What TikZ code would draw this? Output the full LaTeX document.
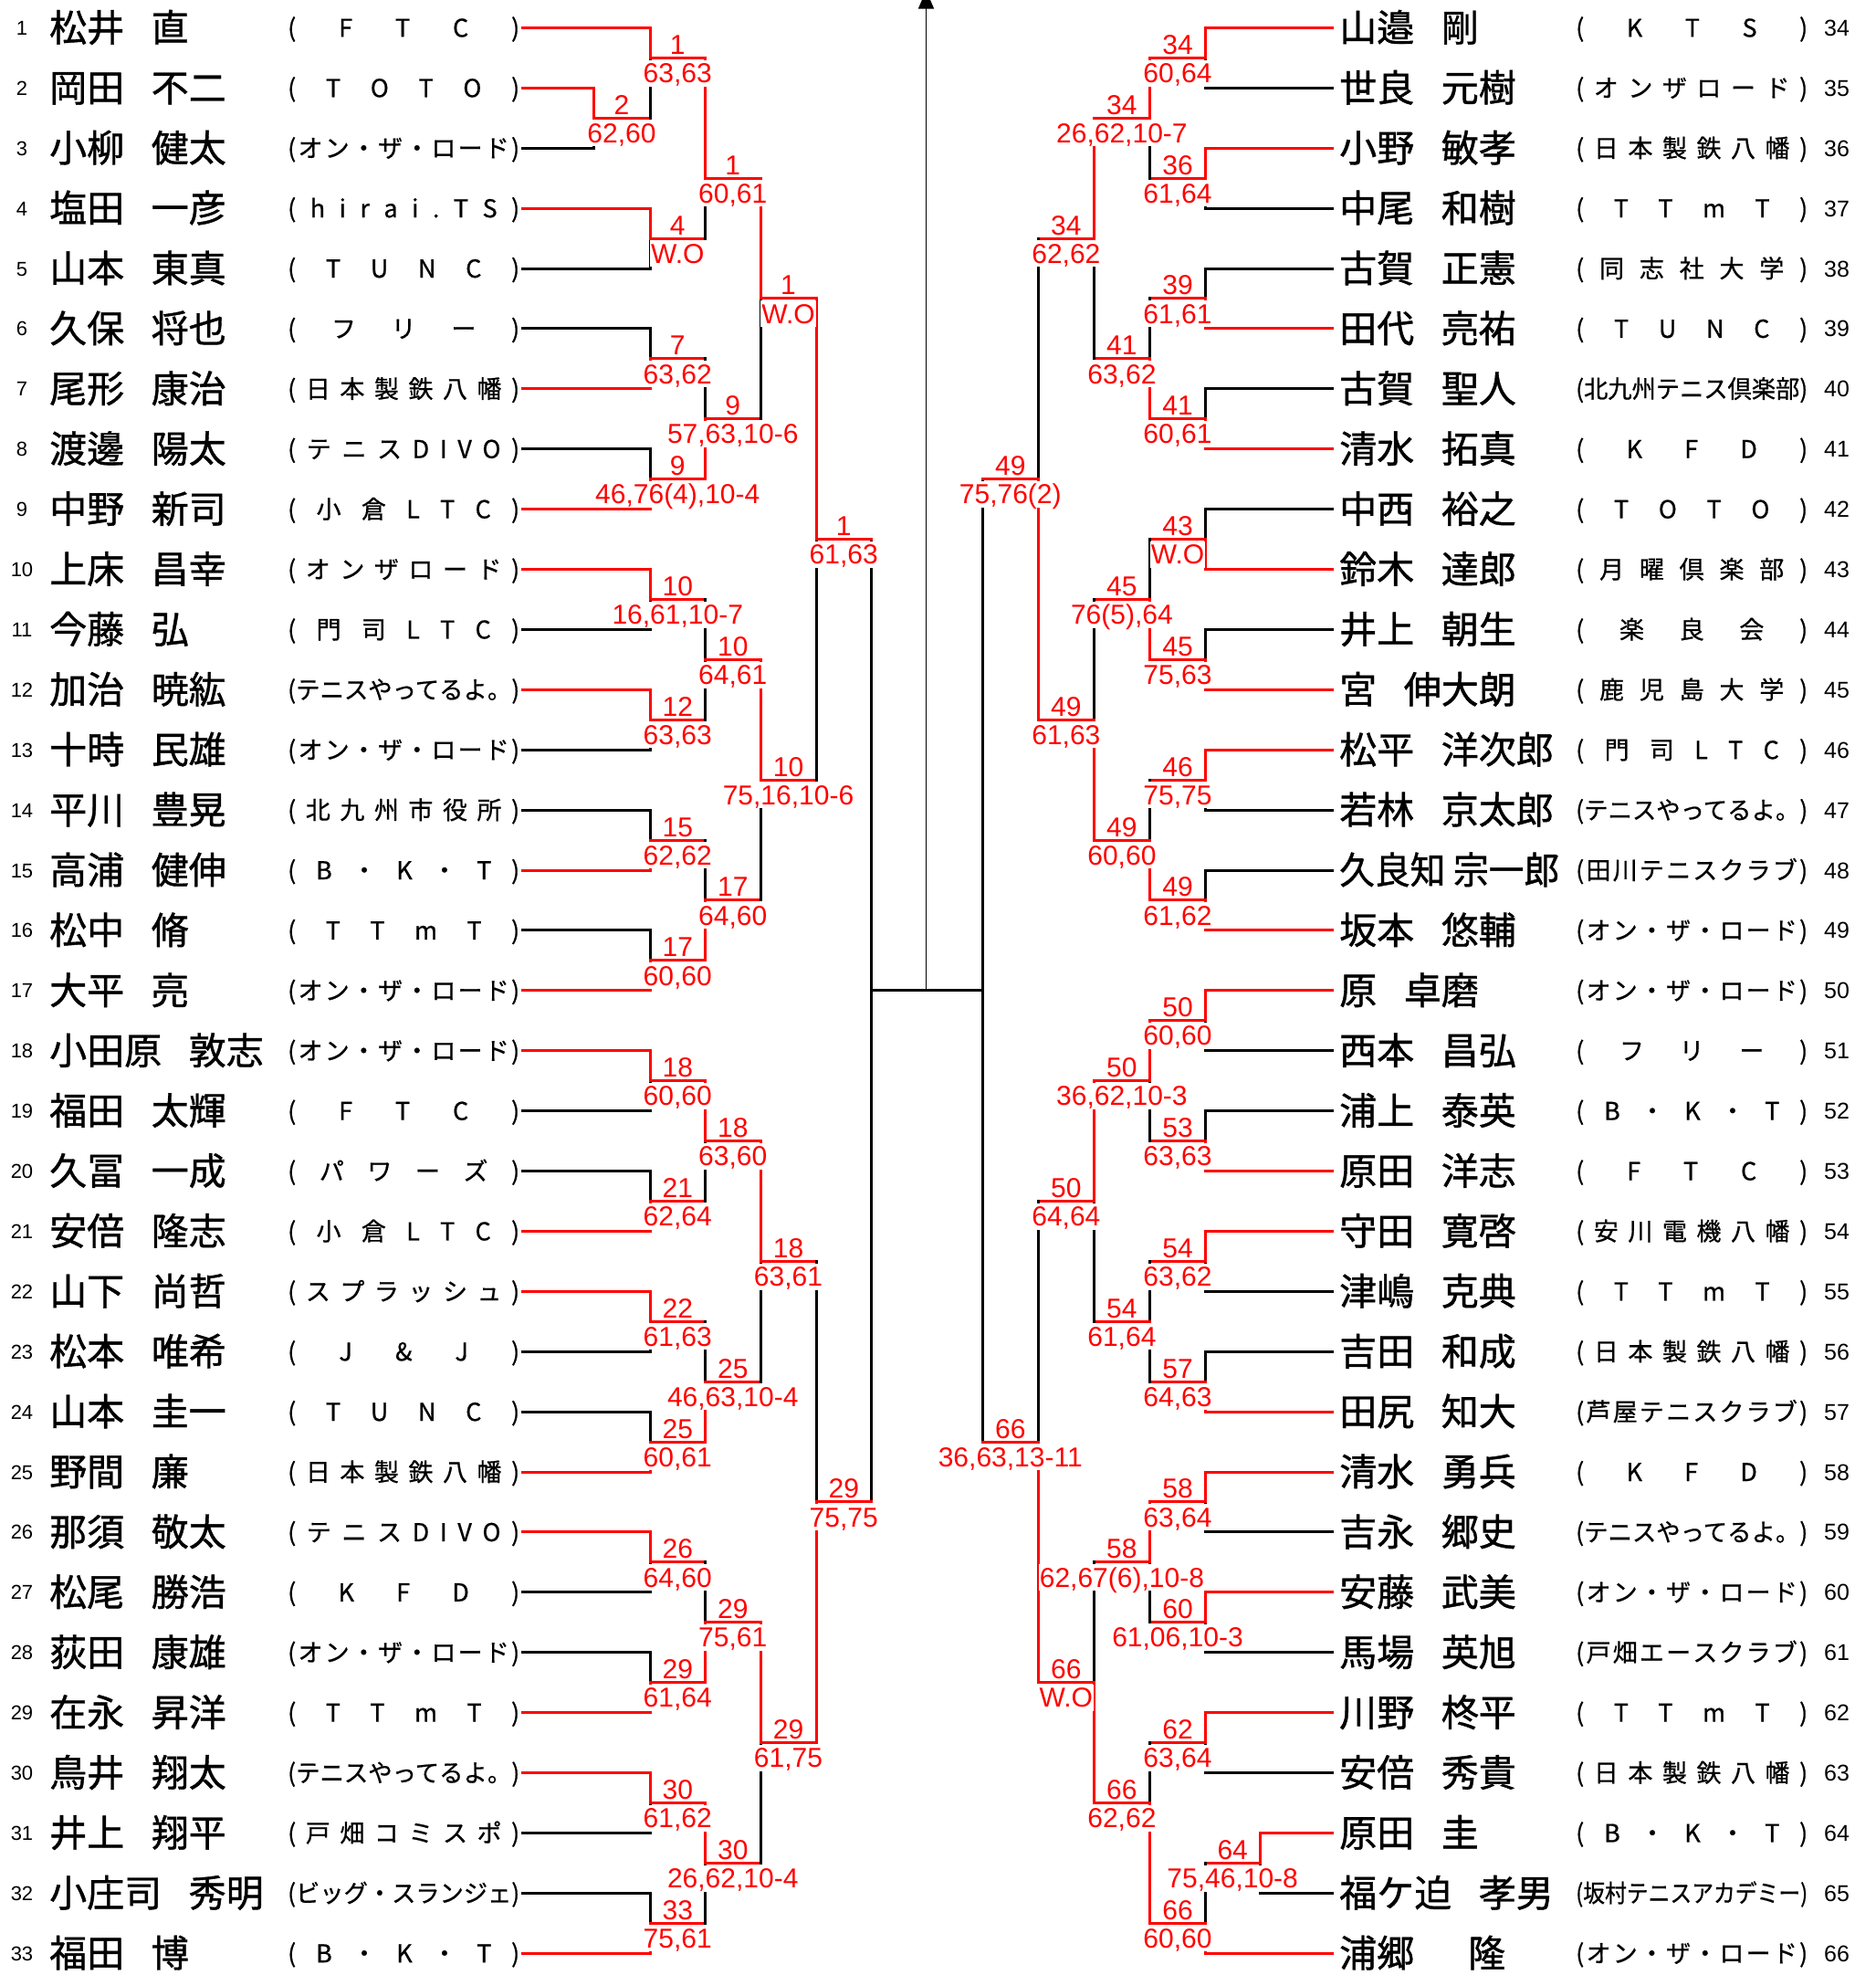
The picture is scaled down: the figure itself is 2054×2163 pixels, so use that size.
\documentclass[tikz,border=0pt]{standalone}
\usepackage{fontspec}
\usepackage{graphicx}
\usetikzlibrary{arrows.meta,calc}
\setmainfont{Liberation Sans}
\newfontfamily\JPfont[FakeBold=1]{Noto Sans CJK JP}
\newfontfamily\JPCfont[FakeBold=0.7]{Noto Sans CJK JP}
\newfontfamily\SCfont{Liberation Sans}
\newfontfamily\RNfont{Liberation Sans}
\newcommand\NameFont{\JPfont\fontsize{41pt}{41pt}\selectfont}
\newcommand\ClubFont{\JPCfont\fontsize{27pt}{27pt}\selectfont}
\newcommand\ScoreFont{\SCfont\fontsize{30pt}{30pt}\selectfont}
\newcommand\RNLFont{\RNfont\fontsize{22pt}{22pt}\selectfont}
\newcommand\RNRFont{\RNfont\fontsize{25pt}{25pt}\selectfont}
\begingroup
\catcode`\^^^^3000=\active
\gdef^^^^3000{\makebox[0.72em][l]{\char"3000\relax}}
\endgroup
\catcode`\^^^^3000=\active
\newsavebox\cbx
\newlength\clubw \setlength\clubw{254pt}
\def\dB#1{#1\dC}
\def\dC#1{\ifx\relax#1\else\hfill#1\expandafter\dC\fi}
\newcommand\Club[1]{\sbox\cbx{#1}\ifdim\wd\cbx>\clubw\resizebox{\clubw}{\height}{#1}\else\makebox[\clubw][s]{\dB#1\relax}\fi}
\def\LLz{650}\def\LLa{712}\def\LLb{772.5}\def\LLc{833}\def\LLd{894}\def\LLe{954.5}
\def\RRz{1380}\def\RRa{1320.4}\def\RRb{1259.6}\def\RRc{1198.2}\def\RRd{1137.5}\def\RRe{1076}
\newcommand\Pline[5]{%
 \coordinate (ps#1) at (#3,{ry(#2)});
 \coordinate (pe#1) at (#4,{ry(#2)});
 \draw[#5] (ps#1) -- (pe#1);}
\newcommand\Match[8]{%
 \coordinate (#1t) at (#2,{ry(#4)});
 \coordinate (#1b) at (#2,{ry(#5)});
 \coordinate (#1) at (#2,{ry(#6)});
 \coordinate (#1o) at (#3,{ry(#6)});
 \draw[#7] (#1t) -- (#1);
 \draw[#8] (#1b) -- (#1);
 \draw[W] (#1) -- (#1o);}
\newcommand\Lab[3]{%
 \node[score] (#1s) at ($(#1)!0.5!(#1o)+(0,2)$) {#3};
 \node[numl] (#1n) at ($(#1)!0.5!(#1o)+(0,-4)$) {#2};}
\newcommand\LeftP[3]{%
 \node[rnl] (k#1) at (24,{ry(#1)+8}) {#1};
 \node[nm] (n#1) at (54,{ry(#1)+15}) {#2};
 \node[cl] (c#1) at (315,{ry(#1)+10}) {\Club{#3}};}
\newcommand\RightP[3]{%
 \node[rnr] (k#1) at (1998,{ry(#1-33)+9}) {#1};
 \node[nm] (n#1) at (1467,{ry(#1-33)+15}) {#2};
 \node[cl] (c#1) at (1726,{ry(#1-33)+10}) {\Club{#3}};}
\tikzset{
 W/.style={draw=red, line width=3pt, line cap=rect},
 B/.style={draw=black, line width=3pt, line cap=rect},
 score/.style={fill=white, text=red, font=\ScoreFont, anchor=north, inner xsep=1pt, inner ysep=1pt, text height=24pt, text depth=3pt},
 numl/.style={text=red, font=\ScoreFont, anchor=base, inner sep=0pt},
 nm/.style={font=\NameFont, anchor=base west, inner sep=0pt},
 cl/.style={font=\ClubFont, anchor=base west, inner sep=0pt},
 rnl/.style={font=\RNLFont, anchor=base, inner sep=0pt},
 rnr/.style={font=\RNRFont, anchor=base west, inner sep=0pt},
 axisarrow/.style={draw=black, line width=1.3pt, -{Triangle[length=20pt,width=17pt]}}
}
\begin{document}
\begin{tikzpicture}[x=1pt,y=-1pt,declare function={ry(\k)=30.4+(\k-1)*65.9;}]
\fill[white] (0,0) rectangle (2054,2163);
\useasboundingbox (0,0) rectangle (2054,2163);
% ---------- left player lines ----------
\Pline{1}{1}{572}{\LLa}{W}
\Pline{2}{2}{572}{\LLz}{W}
\Pline{3}{3}{572}{\LLz}{B}
\Pline{4}{4}{572}{\LLa}{W}
\Pline{5}{5}{572}{\LLa}{B}
\Pline{6}{6}{572}{\LLa}{B}
\Pline{7}{7}{572}{\LLa}{W}
\Pline{8}{8}{572}{\LLa}{B}
\Pline{9}{9}{572}{\LLa}{W}
\Pline{10}{10}{572}{\LLa}{W}
\Pline{11}{11}{572}{\LLa}{B}
\Pline{12}{12}{572}{\LLa}{W}
\Pline{13}{13}{572}{\LLa}{B}
\Pline{14}{14}{572}{\LLa}{B}
\Pline{15}{15}{572}{\LLa}{W}
\Pline{16}{16}{572}{\LLa}{B}
\Pline{17}{17}{572}{\LLa}{W}
\Pline{18}{18}{572}{\LLa}{W}
\Pline{19}{19}{572}{\LLa}{B}
\Pline{20}{20}{572}{\LLa}{B}
\Pline{21}{21}{572}{\LLa}{W}
\Pline{22}{22}{572}{\LLa}{W}
\Pline{23}{23}{572}{\LLa}{B}
\Pline{24}{24}{572}{\LLa}{B}
\Pline{25}{25}{572}{\LLa}{W}
\Pline{26}{26}{572}{\LLa}{W}
\Pline{27}{27}{572}{\LLa}{B}
\Pline{28}{28}{572}{\LLa}{B}
\Pline{29}{29}{572}{\LLa}{W}
\Pline{30}{30}{572}{\LLa}{W}
\Pline{31}{31}{572}{\LLa}{B}
\Pline{32}{32}{572}{\LLa}{B}
\Pline{33}{33}{572}{\LLa}{W}
% ---------- right player lines ----------
\Pline{34}{1}{1459}{\RRa}{W}
\Pline{35}{2}{1459}{\RRa}{B}
\Pline{36}{3}{1459}{\RRa}{W}
\Pline{37}{4}{1459}{\RRa}{B}
\Pline{38}{5}{1459}{\RRa}{B}
\Pline{39}{6}{1459}{\RRa}{W}
\Pline{40}{7}{1459}{\RRa}{B}
\Pline{41}{8}{1459}{\RRa}{W}
\Pline{42}{9}{1459}{\RRa}{B}
\Pline{43}{10}{1459}{\RRa}{W}
\Pline{44}{11}{1459}{\RRa}{B}
\Pline{45}{12}{1459}{\RRa}{W}
\Pline{46}{13}{1459}{\RRa}{W}
\Pline{47}{14}{1459}{\RRa}{B}
\Pline{48}{15}{1459}{\RRa}{B}
\Pline{49}{16}{1459}{\RRa}{W}
\Pline{50}{17}{1459}{\RRa}{W}
\Pline{51}{18}{1459}{\RRa}{B}
\Pline{52}{19}{1459}{\RRa}{B}
\Pline{53}{20}{1459}{\RRa}{W}
\Pline{54}{21}{1459}{\RRa}{W}
\Pline{55}{22}{1459}{\RRa}{B}
\Pline{56}{23}{1459}{\RRa}{B}
\Pline{57}{24}{1459}{\RRa}{W}
\Pline{58}{25}{1459}{\RRa}{W}
\Pline{59}{26}{1459}{\RRa}{B}
\Pline{60}{27}{1459}{\RRa}{W}
\Pline{61}{28}{1459}{\RRa}{B}
\Pline{62}{29}{1459}{\RRa}{W}
\Pline{63}{30}{1459}{\RRa}{B}
\Pline{64}{31}{1459}{\RRz}{W}
\Pline{65}{32}{1459}{\RRz}{B}
\Pline{66}{33}{1459}{\RRa}{W}
% ---------- final lines ----------
\coordinate (fl1) at (\LLe,{ry(9.5)});
\coordinate (fl2) at (\LLe,{ry(25.5)});
\coordinate (fr1) at (\RRe,{ry(8.5)});
\coordinate (fr2) at (\RRe,{ry(24.5)});
\coordinate (fcl) at (\LLe,{ry(17)});
\coordinate (fcr) at (\RRe,{ry(17)});
\coordinate (ar0) at (1014.5,{ry(17)});
\coordinate (ar1) at (1014.5,-10.5);
\draw[B] (fl1) -- (fl2);
\draw[B] (fr1) -- (fr2);
\draw[B] (fcl) -- (fcr);
\draw[axisarrow] (ar0) -- (ar1);
% ---------- left matches ----------
\Match{mA2}{\LLz}{\LLa}{2}{3}{2.5}{W}{B}
\Match{mA1}{\LLa}{\LLb}{1}{2.5}{1.5}{W}{B}
\Match{mA4}{\LLa}{\LLb}{4}{5}{4.5}{W}{B}
\Match{mB1}{\LLb}{\LLc}{1.5}{4.5}{3.5}{W}{B}
\Match{mA7}{\LLa}{\LLb}{6}{7}{6.5}{B}{W}
\Match{mA9}{\LLa}{\LLb}{8}{9}{8.5}{B}{W}
\Match{mB9}{\LLb}{\LLc}{6.5}{8.5}{7.5}{B}{W}
\Match{mC1}{\LLc}{\LLd}{3.5}{7.5}{5.5}{W}{B}
\Match{mA10}{\LLa}{\LLb}{10}{11}{10.5}{W}{B}
\Match{mA12}{\LLa}{\LLb}{12}{13}{12.5}{W}{B}
\Match{mB10}{\LLb}{\LLc}{10.5}{12.5}{11.5}{B}{B}
\Match{mA15}{\LLa}{\LLb}{14}{15}{14.5}{B}{W}
\Match{mA17}{\LLa}{\LLb}{16}{17}{16.5}{B}{W}
\Match{mB17}{\LLb}{\LLc}{14.5}{16.5}{15.5}{B}{W}
\Match{mC10}{\LLc}{\LLd}{11.5}{15.5}{13.5}{W}{B}
\Match{mD1}{\LLd}{\LLe}{5.5}{13.5}{9.5}{W}{B}
\Match{mA18}{\LLa}{\LLb}{18}{19}{18.5}{W}{B}
\Match{mA21}{\LLa}{\LLb}{20}{21}{20.5}{B}{W}
\Match{mB18}{\LLb}{\LLc}{18.5}{20.5}{19.5}{W}{B}
\Match{mA22}{\LLa}{\LLb}{22}{23}{22.5}{W}{B}
\Match{mA25}{\LLa}{\LLb}{24}{25}{24.5}{B}{W}
\Match{mB25}{\LLb}{\LLc}{22.5}{24.5}{23.5}{B}{W}
\Match{mC18}{\LLc}{\LLd}{19.5}{23.5}{21.5}{W}{B}
\Match{mA26}{\LLa}{\LLb}{26}{27}{26.5}{W}{B}
\Match{mA29}{\LLa}{\LLb}{28}{29}{28.5}{B}{W}
\Match{mB29}{\LLb}{\LLc}{26.5}{28.5}{27.5}{B}{W}
\Match{mA30}{\LLa}{\LLb}{30}{31}{30.5}{W}{B}
\Match{mA33}{\LLa}{\LLb}{32}{33}{32.5}{B}{W}
\Match{mB30}{\LLb}{\LLc}{30.5}{32.5}{31.5}{W}{B}
\Match{mC29}{\LLc}{\LLd}{27.5}{31.5}{29.5}{W}{B}
\Match{mD29}{\LLd}{\LLe}{21.5}{29.5}{25.5}{B}{W}
% ---------- right matches ----------
\Match{mA34}{\RRa}{\RRb}{1}{2}{1.5}{W}{B}
\Match{mA36}{\RRa}{\RRb}{3}{4}{3.5}{W}{B}
\Match{mB34}{\RRb}{\RRc}{1.5}{3.5}{2.5}{W}{B}
\Match{mA39}{\RRa}{\RRb}{5}{6}{5.5}{B}{W}
\Match{mA41}{\RRa}{\RRb}{7}{8}{7.5}{B}{W}
\Match{mB41}{\RRb}{\RRc}{5.5}{7.5}{6.5}{B}{W}
\Match{mC34}{\RRc}{\RRd}{2.5}{6.5}{4.5}{W}{B}
\Match{mA43}{\RRa}{\RRb}{9}{10}{9.5}{B}{W}
\Match{mA45}{\RRa}{\RRb}{11}{12}{11.5}{B}{W}
\Match{mB45}{\RRb}{\RRc}{9.5}{11.5}{10.5}{B}{W}
\Match{mA46}{\RRa}{\RRb}{13}{14}{13.5}{W}{B}
\Match{mA49}{\RRa}{\RRb}{15}{16}{15.5}{B}{W}
\Match{mB49}{\RRb}{\RRc}{13.5}{15.5}{14.5}{B}{W}
\Match{mC49}{\RRc}{\RRd}{10.5}{14.5}{12.5}{B}{W}
\Match{mD49}{\RRd}{\RRe}{4.5}{12.5}{8.5}{B}{W}
\Match{mA50}{\RRa}{\RRb}{17}{18}{17.5}{W}{B}
\Match{mA53}{\RRa}{\RRb}{19}{20}{19.5}{B}{W}
\Match{mB50}{\RRb}{\RRc}{17.5}{19.5}{18.5}{W}{B}
\Match{mA54}{\RRa}{\RRb}{21}{22}{21.5}{W}{B}
\Match{mA57}{\RRa}{\RRb}{23}{24}{23.5}{B}{W}
\Match{mB54}{\RRb}{\RRc}{21.5}{23.5}{22.5}{B}{B}
\Match{mC50}{\RRc}{\RRd}{18.5}{22.5}{20.5}{W}{B}
\Match{mA58}{\RRa}{\RRb}{25}{26}{25.5}{W}{B}
\Match{mA60}{\RRa}{\RRb}{27}{28}{27.5}{W}{B}
\Match{mB58}{\RRb}{\RRc}{25.5}{27.5}{26.5}{W}{B}
\Match{mA62}{\RRa}{\RRb}{29}{30}{29.5}{W}{B}
\Match{mZ64}{\RRz}{\RRa}{31}{32}{31.5}{W}{B}
\Match{mA66}{\RRa}{\RRb}{31.5}{33}{32.5}{B}{W}
\Match{mB66}{\RRb}{\RRc}{29.5}{32.5}{30.5}{B}{W}
\Match{mC66}{\RRc}{\RRd}{26.5}{30.5}{28.5}{B}{W}
\Match{mD66}{\RRd}{\RRe}{20.5}{28.5}{24.5}{B}{W}
% ---------- labels ----------
\Lab{mA2}{2}{62,60}
\Lab{mA1}{1}{63,63}
\Lab{mA4}{4}{W.O}
\Lab{mB1}{1}{60,61}
\Lab{mA7}{7}{63,62}
\Lab{mA9}{9}{46,76(4),10-4}
\Lab{mB9}{9}{57,63,10-6}
\Lab{mC1}{1}{W.O}
\Lab{mA10}{10}{16,61,10-7}
\Lab{mA12}{12}{63,63}
\Lab{mB10}{10}{64,61}
\Lab{mA15}{15}{62,62}
\Lab{mA17}{17}{60,60}
\Lab{mB17}{17}{64,60}
\Lab{mC10}{10}{75,16,10-6}
\Lab{mD1}{1}{61,63}
\Lab{mA18}{18}{60,60}
\Lab{mA21}{21}{62,64}
\Lab{mB18}{18}{63,60}
\Lab{mA22}{22}{61,63}
\Lab{mA25}{25}{60,61}
\Lab{mB25}{25}{46,63,10-4}
\Lab{mC18}{18}{63,61}
\Lab{mA26}{26}{64,60}
\Lab{mA29}{29}{61,64}
\Lab{mB29}{29}{75,61}
\Lab{mA30}{30}{61,62}
\Lab{mA33}{33}{75,61}
\Lab{mB30}{30}{26,62,10-4}
\Lab{mC29}{29}{61,75}
\Lab{mD29}{29}{75,75}
\Lab{mA34}{34}{60,64}
\Lab{mA36}{36}{61,64}
\Lab{mB34}{34}{26,62,10-7}
\Lab{mA39}{39}{61,61}
\Lab{mA41}{41}{60,61}
\Lab{mB41}{41}{63,62}
\Lab{mC34}{34}{62,62}
\Lab{mA43}{43}{W.O}
\Lab{mA45}{45}{75,63}
\Lab{mB45}{45}{76(5),64}
\Lab{mA46}{46}{75,75}
\Lab{mA49}{49}{61,62}
\Lab{mB49}{49}{60,60}
\Lab{mC49}{49}{61,63}
\Lab{mD49}{49}{75,76(2)}
\Lab{mA50}{50}{60,60}
\Lab{mA53}{53}{63,63}
\Lab{mB50}{50}{36,62,10-3}
\Lab{mA54}{54}{63,62}
\Lab{mA57}{57}{64,63}
\Lab{mB54}{54}{61,64}
\Lab{mC50}{50}{64,64}
\Lab{mA58}{58}{63,64}
\Lab{mA60}{60}{61,06,10-3}
\Lab{mB58}{58}{62,67(6),10-8}
\Lab{mA62}{62}{63,64}
\Lab{mZ64}{64}{75,46,10-8}
\Lab{mA66}{66}{60,60}
\Lab{mB66}{66}{62,62}
\Lab{mC66}{66}{W.O}
\Lab{mD66}{66}{36,63,13-11}
% ---------- left players ----------
\LeftP{1}{松井　直}{(FTC)}
\LeftP{2}{岡田　不二}{(TOTO)}
\LeftP{3}{小柳　健太}{(オン・ザ・ロード)}
\LeftP{4}{塩田　一彦}{(hirai.TS)}
\LeftP{5}{山本　東真}{(TUNC)}
\LeftP{6}{久保　将也}{(フリー)}
\LeftP{7}{尾形　康治}{(日本製鉄八幡)}
\LeftP{8}{渡邊　陽太}{(テニスDIVO)}
\LeftP{9}{中野　新司}{(小倉LTC)}
\LeftP{10}{上床　昌幸}{(オンザロード)}
\LeftP{11}{今藤　弘}{(門司LTC)}
\LeftP{12}{加治　暁紘}{(テニスやってるよ。)}
\LeftP{13}{十時　民雄}{(オン・ザ・ロード)}
\LeftP{14}{平川　豊晃}{(北九州市役所)}
\LeftP{15}{高浦　健伸}{(B・K・T)}
\LeftP{16}{松中　脩}{(TTmT)}
\LeftP{17}{大平　亮}{(オン・ザ・ロード)}
\LeftP{18}{小田原　敦志}{(オン・ザ・ロード)}
\LeftP{19}{福田　太輝}{(FTC)}
\LeftP{20}{久冨　一成}{(パワーズ)}
\LeftP{21}{安倍　隆志}{(小倉LTC)}
\LeftP{22}{山下　尚哲}{(スプラッシュ)}
\LeftP{23}{松本　唯希}{(J\&J)}
\LeftP{24}{山本　圭一}{(TUNC)}
\LeftP{25}{野間　廉}{(日本製鉄八幡)}
\LeftP{26}{那須　敬太}{(テニスDIVO)}
\LeftP{27}{松尾　勝浩}{(KFD)}
\LeftP{28}{荻田　康雄}{(オン・ザ・ロード)}
\LeftP{29}{在永　昇洋}{(TTmT)}
\LeftP{30}{鳥井　翔太}{(テニスやってるよ。)}
\LeftP{31}{井上　翔平}{(戸畑コミスポ)}
\LeftP{32}{小庄司　秀明}{(ビッグ・スランジェ)}
\LeftP{33}{福田　博}{(B・K・T)}
% ---------- right players ----------
\RightP{34}{山邉　剛}{(KTS)}
\RightP{35}{世良　元樹}{(オンザロード)}
\RightP{36}{小野　敏孝}{(日本製鉄八幡)}
\RightP{37}{中尾　和樹}{(TTmT)}
\RightP{38}{古賀　正憲}{(同志社大学)}
\RightP{39}{田代　亮祐}{(TUNC)}
\RightP{40}{古賀　聖人}{(北九州テニス倶楽部)}
\RightP{41}{清水　拓真}{(KFD)}
\RightP{42}{中西　裕之}{(TOTO)}
\RightP{43}{鈴木　達郎}{(月曜倶楽部)}
\RightP{44}{井上　朝生}{(楽良会)}
\RightP{45}{宮　伸大朗}{(鹿児島大学)}
\RightP{46}{松平　洋次郎}{(門司LTC)}
\RightP{47}{若林　京太郎}{(テニスやってるよ。)}
\RightP{48}{\resizebox{241pt}{\height}{久良知 宗一郎}}{(田川テニスクラブ)}
\RightP{49}{坂本　悠輔}{(オン・ザ・ロード)}
\RightP{50}{原　卓磨}{(オン・ザ・ロード)}
\RightP{51}{西本　昌弘}{(フリー)}
\RightP{52}{浦上　泰英}{(B・K・T)}
\RightP{53}{原田　洋志}{(FTC)}
\RightP{54}{守田　寛啓}{(安川電機八幡)}
\RightP{55}{津嶋　克典}{(TTmT)}
\RightP{56}{吉田　和成}{(日本製鉄八幡)}
\RightP{57}{田尻　知大}{(芦屋テニスクラブ)}
\RightP{58}{清水　勇兵}{(KFD)}
\RightP{59}{吉永　郷史}{(テニスやってるよ。)}
\RightP{60}{安藤　武美}{(オン・ザ・ロード)}
\RightP{61}{馬場　英旭}{(戸畑エースクラブ)}
\RightP{62}{川野　柊平}{(TTmT)}
\RightP{63}{安倍　秀貴}{(日本製鉄八幡)}
\RightP{64}{原田　圭}{(B・K・T)}
\RightP{65}{福ケ迫　孝男}{(坂村テニスアカデミー)}
\RightP{66}{浦郷　　隆}{(オン・ザ・ロード)}
\end{tikzpicture}
\end{document}
